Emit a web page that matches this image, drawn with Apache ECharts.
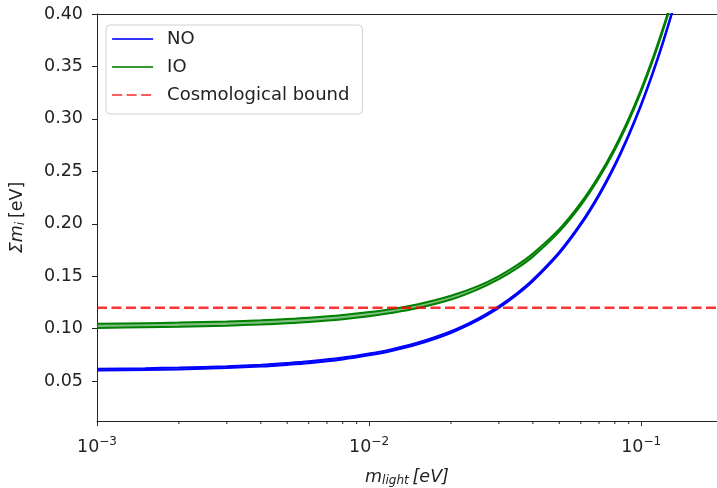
<!DOCTYPE html>
<html><head><meta charset="utf-8">
<script src="https://cdn.jsdelivr.net/npm/echarts@6/dist/echarts.min.js"></script>
<style>html,body{margin:0;padding:0;background:#fff}#c{width:717px;height:488px}</style>
</head><body><div id="c"></div>
<script>
const mLight = [0.001,0.0015,0.002,0.003,0.004,0.005,0.006,0.008,0.01,0.012,0.015,0.02,0.025,0.03,0.035,0.04,0.05,0.06,0.07,0.08,0.09,0.1,0.11,0.12,0.13,0.14];
const noLow  = [0.0601,0.0606,0.0612,0.0625,0.0639,0.0655,0.0671,0.0707,0.0746,0.0785,0.0848,0.0959,0.1076,0.1198,0.1323,0.1451,0.1715,0.1988,0.2266,0.2549,0.2837,0.3126,0.3419,0.3713,0.4009,0.4311];
const noHigh = [0.0619,0.0624,0.0630,0.0643,0.0657,0.0673,0.0689,0.0725,0.0764,0.0803,0.0866,0.0977,0.1094,0.1216,0.1341,0.1469,0.1733,0.2006,0.2284,0.2567,0.2855,0.3144,0.3437,0.3731,0.4027,0.4329];
const ioLow  = [0.1007,0.1013,0.1018,0.1029,0.1040,0.1052,0.1064,0.1090,0.1118,0.1149,0.1195,0.1278,0.1373,0.1472,0.1577,0.1687,0.1925,0.2175,0.2436,0.2704,0.2980,0.3261,0.3546,0.3834,0.4123,0.4418];
const ioHigh = [0.1047,0.1053,0.1058,0.1069,0.1080,0.1092,0.1104,0.1130,0.1158,0.1185,0.1231,0.1314,0.1403,0.1502,0.1607,0.1717,0.1949,0.2199,0.2460,0.2728,0.3004,0.3285,0.3570,0.3858,0.4147,0.4442];
const boundX = [0.001, 0.19];
const boundValue = 0.12;
const xMinorTicks = [0.002,0.003,0.004,0.005,0.006,0.007,0.008,0.009,0.02,0.03,0.04,0.05,0.06,0.07,0.08,0.09];

const pairs = (xs, ys) => xs.map((x, i) => [x, ys[i]]);
const FONT = 'DejaVu Sans';
const TXT = '#222';
const FS = 17.5;

const chart = echarts.init(document.getElementById('c'), null, {renderer: 'canvas'});
const bandLine = (name, data, color, z) => ({
  name, type: 'line', data, smooth: 0.3, symbol: 'none',
  lineStyle: {color, width: 2}, itemStyle: {color}, z
});
const bandFill = (lo, hi, color, z) => ({
  name: 'band', type: 'custom', data: [[mLight[0], lo[0]]], clip: true, silent: true, z,
  renderItem: (params, api) => {
    const pts = [];
    mLight.forEach((x, i) => pts.push(api.coord([x, lo[i]])));
    for (let i = mLight.length - 1; i >= 0; i--) pts.push(api.coord([mLight[i], hi[i]]));
    return {type: 'polygon', shape: {points: pts}, style: {fill: color, stroke: null}};
  }
});
const option = {
  animation: false,
  backgroundColor: '#fff',
  textStyle: {fontFamily: FONT},
  grid: {left: 97, top: 14, right: 0, bottom: 67, show: false, containLabel: false, outerBoundsMode: 'none'},
  legend: {
    data: ['NO', 'IO', 'Cosmological bound'],
    orient: 'vertical', left: 106, top: 25,
    itemWidth: 41, itemHeight: 18, itemGap: 10,
    padding: [5, 13, 10, 5],
    borderColor: '#d0d0d0', borderWidth: 1, borderRadius: 4,
    backgroundColor: 'rgba(255,255,255,0.8)',
    lineStyle: {width: 2.2, opacity: 0.8},
    itemStyle: {opacity: 0, borderWidth: 0},
    textStyle: {fontFamily: FONT, fontSize: 18, color: TXT, padding: [0, 0, 0, 9]}
  },
  xAxis: [{
    type: 'log', logBase: 10, min: 0.001, max: 0.19,
    name: '{m|m}{sub|light} {m|[eV]}', nameLocation: 'middle', nameGap: 47,
    nameTextStyle: {
      color: TXT,
      rich: {
        m: {fontFamily: FONT, fontSize: FS, fontStyle: 'italic', color: TXT},
        sub: {fontFamily: FONT, fontSize: 12, fontStyle: 'italic', color: TXT, padding: [7, 0, 0, 0]}
      }
    },
    axisLine: {show: true, lineStyle: {color: '#222', width: 1}},
    axisTick: {show: true, length: 5, lineStyle: {color: '#222'}},
    splitLine: {show: false},
    minorTick: {show: false},
    axisLabel: {
      margin: 15, showMaxLabel: false, color: TXT,
      formatter: v => {
        const e = Math.round(Math.log10(v));
        return '{b|10}{s|' + (e < 0 ? '\u2212' + (-e) : e) + '}';
      },
      rich: {
        b: {fontFamily: FONT, fontSize: FS, color: TXT},
        s: {fontFamily: FONT, fontSize: 12, color: TXT, padding: [0, 0, 10, 0]}
      }
    }
  }, {
    type: 'log', logBase: 10, min: 0.001, max: 0.19, position: 'top',
    axisLine: {show: true, lineStyle: {color: '#222', width: 1}},
    axisTick: {show: false}, axisLabel: {show: false}, splitLine: {show: false}
  }],
  yAxis: {
    type: 'value', min: 0.012, max: 0.4, splitNumber: 8,
    name: '{s|\u03A3}{m|m}{sub|i} {n|[eV]}', nameLocation: 'middle', nameGap: 70, nameRotate: 90,
    nameTextStyle: {
      color: TXT,
      rich: {
        s: {fontFamily: FONT, fontSize: FS, fontStyle: 'italic', color: TXT},
        m: {fontFamily: FONT, fontSize: FS, fontStyle: 'italic', color: TXT},
        sub: {fontFamily: FONT, fontSize: 12, fontStyle: 'italic', color: TXT, padding: [7, 0, 0, 0]},
        n: {fontFamily: FONT, fontSize: FS, color: TXT}
      }
    },
    axisLine: {show: true, lineStyle: {color: '#222', width: 1}},
    axisTick: {show: true, length: 5, lineStyle: {color: '#222'}},
    splitLine: {show: false},
    axisLabel: {
      margin: 14, showMinLabel: false, color: TXT, fontFamily: FONT, fontSize: FS,
      formatter: v => v.toFixed(2)
    }
  },
  series: [
    bandFill(noLow, noHigh, 'rgba(0,0,255,0.6)', 2),
    bandLine('NO', pairs(mLight, noLow), '#0000ff', 3),
    bandLine('NO', pairs(mLight, noHigh), '#0000ff', 3),
    bandFill(ioLow, ioHigh, 'rgba(0,128,0,0.5)', 4),
    bandLine('IO', pairs(mLight, ioLow), '#008000', 5),
    bandLine('IO', pairs(mLight, ioHigh), '#008000', 5),
    {name: 'Cosmological bound', type: 'line', data: boundX.map(x => [x, boundValue]), symbol: 'none',
     lineStyle: {color: 'rgba(255,0,0,0.8)', width: 2.5, type: [10, 4.5]}, itemStyle: {color: 'rgba(255,0,0,0.8)'}, z: 6},
    {name: 'minorTicks', type: 'custom', data: xMinorTicks.map(v => [v, 0.012]), clip: false, silent: true, z: 7,
     renderItem: (params, api) => {
       const p = api.coord([api.value(0), api.value(1)]);
       return {type: 'line', shape: {x1: p[0], y1: p[1], x2: p[0], y2: p[1] + 3}, style: {stroke: '#222', lineWidth: 1}};
     }}
  ]
};
chart.setOption(option);
</script>
</body></html>
